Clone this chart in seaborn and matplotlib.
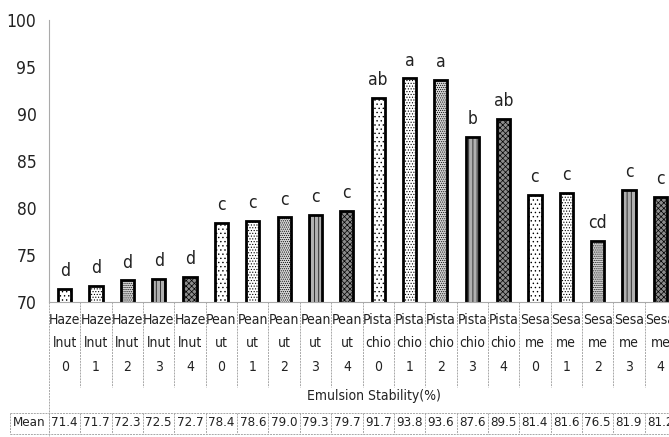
import matplotlib
matplotlib.use("Agg")
import matplotlib.pyplot as plt
import matplotlib.transforms as mtransforms
from matplotlib import font_manager as fm
import seaborn as sns
import pandas as pd

# data
nuts = ["Hazelnut"] * 5 + ["Peanut"] * 5 + ["Pistachio"] * 5 + ["Sesame"] * 5
levels = ["0", "1", "2", "3", "4"] * 4
label_top = ["Haze"] * 5 + ["Pean"] * 5 + ["Pista"] * 5 + ["Sesa"] * 5
label_mid = ["lnut"] * 5 + ["ut"] * 5 + ["chio"] * 5 + ["me"] * 5
means = [71.4, 71.7, 72.3, 72.5, 72.7,
         78.4, 78.6, 79.0, 79.3, 79.7,
         91.7, 93.8, 93.6, 87.6, 89.5,
         81.4, 81.6, 76.5, 81.9, 81.2]
letters = ["d", "d", "d", "d", "d",
           "c", "c", "c", "c", "c",
           "ab", "a", "a", "b", "ab",
           "c", "c", "cd", "c", "c"]
yticks = [70, 75, 80, 85, 90, 95, 100]

df = pd.DataFrame({"sample": [f"{n} {l}" for n, l in zip(nuts, levels)],
                   "mean": means})

sns.set_style("white")

# look for a narrow font (the original uses Calibri)
fonts = fm.fontManager.ttflist
names = {f.name for f in fonts}
narrow = [f for f in fonts if "Narrow" in f.fname or "Condensed" in f.fname]
scale = 1.0
if "Liberation Sans Narrow" in names:
    plt.rcParams["font.family"] = ["Liberation Sans Narrow", "DejaVu Sans"]
elif narrow:
    plt.rcParams["font.family"] = [narrow[0].name, "DejaVu Sans"]
    plt.rcParams["font.stretch"] = narrow[0].stretch
else:
    plt.rcParams["font.family"] = ["Roboto", "DejaVu Sans"]
    scale = 0.85
plt.rcParams["hatch.linewidth"] = 0.5

W, H = 669, 437
fig = plt.figure(figsize=(W / 100, H / 100), dpi=100)
ax = fig.add_axes([49 / W, (H - 302) / H, (676 - 49) / W, 282 / H])

sns.barplot(data=df, x="sample", y="mean", color="white", width=0.42,
            edgecolor="black", linewidth=2, ax=ax)

# fill styles for levels 0..4
faces = ["white", "white", "#d6d6d6", "#b0b0b0", "#8c8c8c"]
hatches = ["....", "......", "........", "||||", "xxxxxx"]
for i, bar in enumerate(ax.patches):
    bar.set_facecolor(faces[i % 5])
    bar.set_hatch(hatches[i % 5])
    bar.set_edgecolor("black")

txt = "#222222"
ax.set_ylim(70, 100)
ax.set_xlim(-0.5, len(means) - 0.5)
ax.set_yticks(yticks)
ax.set_yticklabels([str(t) for t in yticks], fontsize=12.5 * scale, color=txt)
ax.tick_params(axis="y", length=4, color="#999999", pad=5)
ax.set_xticks([])
ax.set_xlabel("")
ax.set_ylabel("")
sns.despine(ax=ax)
for s in ["left", "bottom"]:
    ax.spines[s].set_color("#aaaaaa")
    ax.spines[s].set_linewidth(0.8)

# significance letters
for i, (m, let) in enumerate(zip(means, letters)):
    ax.text(i, m + 1.35, let, ha="center", va="baseline",
            fontsize=12.5 * scale, color=txt)

# x label rows, separators and data table below the axes
tr = mtransforms.blended_transform_factory(ax.transData, fig.transFigure)
def fy(px):
    return 1 - px / H

fs = 10 * scale
for i in range(len(means)):
    ax.text(i, fy(320), label_top[i], transform=tr, ha="center", va="center",
            fontsize=fs, color=txt, clip_on=False)
    ax.text(i, fy(343), label_mid[i], transform=tr, ha="center", va="center",
            fontsize=fs, color=txt, clip_on=False)
    ax.text(i, fy(367), levels[i], transform=tr, ha="center", va="center",
            fontsize=fs, color=txt, clip_on=False)
    ax.text(i, fy(423), f"{means[i]:.1f}", transform=tr, ha="center",
            va="center", fontsize=9.5 * scale, color=txt, clip_on=False)

grid = dict(color="#a8a8a8", lw=0.7, ls=(0, (2, 1)), clip_on=False)
for k in range(len(means) + 1):
    x = k - 0.5
    bottom = 437 if k == 0 else 387
    ax.plot([x, x], [fy(302), fy(bottom)], transform=tr, **grid)
    ax.plot([x, x], [fy(413), fy(434)], transform=tr, **grid)

fig.add_artist(plt.Line2D([10 / W, 1], [fy(413), fy(413)], **grid))
fig.add_artist(plt.Line2D([10 / W, 1], [fy(434), fy(434)], **grid))
fig.add_artist(plt.Line2D([10 / W, 10 / W], [fy(413), fy(434)], **grid))
fig.text(29 / W, fy(423), "Mean", ha="center", va="center",
         fontsize=9.5 * scale, color=txt)
fig.text(374 / W, fy(396), "Emulsion Stability(%)", ha="center",
         va="center", fontsize=fs, color=txt)

fig.savefig("out.png", dpi=100)
